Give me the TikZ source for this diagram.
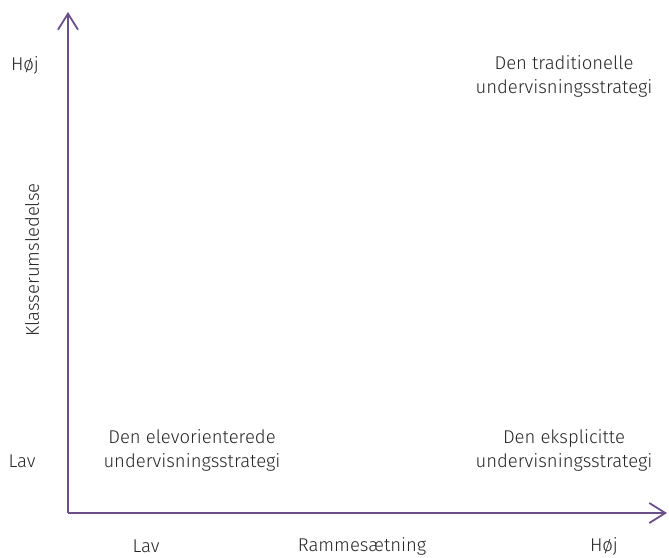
\documentclass[tikz,border=0pt]{standalone}
\usepackage{fontspec}
\setmainfont{Fira Sans Light}
\usetikzlibrary{arrows.meta}
\definecolor{axis}{HTML}{6B4F8A}
\definecolor{txt}{HTML}{262626}
\begin{document}
\begin{tikzpicture}[x=1pt,y=-1pt,
  lbl/.style={font=\fontsize{18.5}{24}\selectfont,text=txt,align=center,inner sep=0pt},
  ax/.style={draw=axis,line width=1.8pt,-{Straight Barb[length=16pt,width=20pt,line width=1.8pt]}}]
\useasboundingbox (0,0) rectangle (669,557);
\coordinate (o) at (68,513);
\coordinate (ytop) at (68,12);
\coordinate (xend) at (667,513);
\draw[ax] (o) -- (ytop);
\draw[ax] (o) -- (xend);
\node[lbl] (yhi) at (25,65) {Høj};
\node[lbl] (ylo) at (22,461) {Lav};
\node[lbl,rotate=90] (ylab) at (32,260) {Klasserumsledelse};
\node[lbl] (trad) at (564,76) {Den traditionelle\\undervisningsstrategi};
\node[lbl] (elev) at (192,450) {Den elevorienterede\\undervisningsstrategi};
\node[lbl] (eks) at (564,450) {Den eksplicitte\\undervisningsstrategi};
\node[lbl] (xlo) at (146,546) {Lav};
\node[lbl] (xlab) at (362,546) {Rammesætning};
\node[lbl] (xhi) at (604,546) {Høj};
\end{tikzpicture}
\end{document}
